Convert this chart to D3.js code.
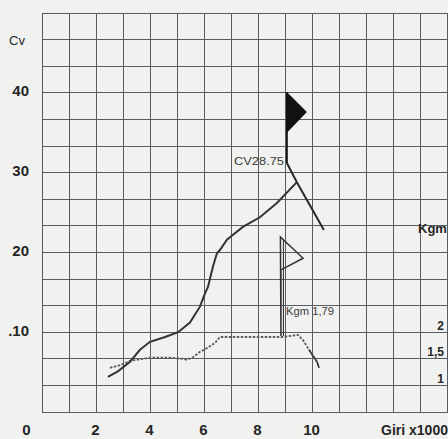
<!DOCTYPE html>
<html>
<head>
<meta charset="utf-8">
<script src="https://cdn.jsdelivr.net/npm/d3@7"></script>
<style>
  html, body { margin: 0; padding: 0; background: #f1f2f0; }
  svg { display: block; font-family: 'Liberation Sans', Arial, sans-serif; }
</style>
</head>
<body>
<svg width="448" height="439"></svg>
<script>
// rpm (x1000) ticks and labels
const rpmTicks = [0, 2, 4, 6, 8, 10];
const cvTicks = [10, 20, 30, 40];
const kgmTicks = [1, 1.5, 2];

// power curve: [rpm x1000, CV]
const cvCurve = [
  [2.44, 4.4], [2.81, 5.1], [3.26, 6.3], [3.63, 7.8], [4.0, 8.8],
  [4.56, 9.4], [5.04, 10.0], [5.48, 11.2], [5.85, 13.2], [6.04, 14.9],
  [6.15, 15.7], [6.33, 18.2], [6.48, 19.9], [6.59, 20.3], [6.85, 21.6],
  [6.96, 21.9], [7.44, 23.2], [8.07, 24.4], [8.70, 26.2], [9.44, 28.8]
];
// falling branch after the peak, starting at the flag pole
const cvFall = [[9.07, 31.2], [9.44, 28.8], [10.44, 22.8]];
const cvFlag = [[9.07, 31.2], [9.07, 40.1], [9.81, 37.6], [9.07, 35.0]];

// torque curve: [rpm x1000, Kgm]
const kgmCurve = [
  [2.52, 1.33], [2.89, 1.38], [3.26, 1.46], [4.0, 1.52], [4.74, 1.52],
  [5.22, 1.50], [5.37, 1.48], [5.59, 1.53], [5.85, 1.63], [6.11, 1.70],
  [6.41, 1.80], [6.59, 1.91], [7.33, 1.91], [8.93, 1.91], [9.48, 1.95],
  [9.67, 1.85], [9.89, 1.67], [10.19, 1.44], [10.26, 1.33]
];
const kgmFlag = [[8.85, 1.93], [8.83, 3.79], [9.67, 3.39], [8.85, 3.17]];

const svg = d3.select('svg');
const gLeft = 42, gRight = 447, gTop = 13, gBottom = 412;

const x = d3.scaleLinear().domain([0, 15]).range([gLeft, gRight]);
const y = d3.scaleLinear().domain([0, 50]).range([gBottom, gTop]);
const yK = d3.scaleLinear().domain([0.5, 8]).range([gBottom, gTop]);

// grid
const grid = svg.append('g')
  .attr('stroke', '#585c64')
  .attr('stroke-width', 1)
  .attr('shape-rendering', 'crispEdges');
grid.selectAll('line.v')
  .data(d3.range(0, 16))
  .enter().append('line')
  .attr('x1', d => x(d)).attr('x2', d => x(d))
  .attr('y1', gTop).attr('y2', gBottom);
grid.selectAll('line.h')
  .data(d3.range(0, 16))
  .enter().append('line')
  .attr('x1', gLeft).attr('x2', 448)
  .attr('y1', d => y(d * 10 / 3)).attr('y2', d => y(d * 10 / 3));

// axes (labels only)
const fmt = d => String(d).replace('.', ',');

const xAxis = svg.append('g')
  .attr('transform', `translate(0,${gBottom})`)
  .call(d3.axisBottom(x).tickValues(rpmTicks).tickSize(0).tickPadding(12));
xAxis.selectAll('text').attr('dx', d => (d === 0 ? -16 : -1));

const yAxis = svg.append('g')
  .attr('transform', `translate(${gLeft},0)`)
  .call(d3.axisLeft(y).tickValues(cvTicks).tickSize(0).tickPadding(13));
yAxis.selectAll('text').attr('dy', '0.2em')
  .text(d => (d === 10 ? '.10' : d));

const kAxis = svg.append('g')
  .attr('transform', 'translate(444,0)')
  .call(d3.axisLeft(yK).tickValues(kgmTicks).tickSize(0).tickPadding(0).tickFormat(fmt));
kAxis.selectAll('text').attr('dy', '-0.25em').attr('text-anchor', 'end');

svg.selectAll('.domain').remove();
svg.selectAll('.tick text')
  .attr('fill', '#262626')
  .style('font-family', "'Liberation Sans', Arial, sans-serif")
  .style('font-weight', 'bold')
  .style('font-size', '15px');
kAxis.selectAll('text').style('font-size', '12px');

const line = d3.line().x(d => x(d[0])).y(d => y(d[1]));
const lineK = d3.line().x(d => x(d[0])).y(d => yK(d[1]));

// torque (dotted)
svg.append('path')
  .attr('d', lineK(kgmCurve))
  .attr('fill', 'none')
  .attr('stroke', '#5a5a5a')
  .attr('stroke-width', 1.8)
  .attr('stroke-dasharray', '2.5,1.5');
svg.append('path')
  .attr('d', lineK(kgmCurve.filter(d => d[0] >= 9.89)))
  .attr('fill', 'none')
  .attr('stroke', '#3c3c3c')
  .attr('stroke-width', 1.6);

// torque flag (outline)
svg.append('path')
  .attr('d', lineK(kgmFlag) + 'Z')
  .attr('fill', 'none')
  .attr('stroke', '#333')
  .attr('stroke-width', 1.5);
svg.append('line')
  .attr('x1', x(8.85) + 2.5).attr('x2', x(8.85) + 2.5)
  .attr('y1', yK(3.75)).attr('y2', yK(1.93))
  .attr('stroke', '#3a3a3a').attr('stroke-width', 1.1);

// power (solid)
svg.append('path')
  .attr('d', line(cvCurve))
  .attr('fill', 'none')
  .attr('stroke', '#333')
  .attr('stroke-width', 2);
svg.append('path')
  .attr('d', line(cvFall))
  .attr('fill', 'none')
  .attr('stroke', '#2a2a2a')
  .attr('stroke-width', 2);

// power flag (filled)
svg.append('path')
  .attr('d', line(cvFlag.slice(1)) + 'Z')
  .attr('fill', '#111');
svg.append('path')
  .attr('d', line(cvFlag.slice(0, 2)))
  .attr('stroke', '#111')
  .attr('stroke-width', 1.8);

// labels
const label = (tx, ty, s, size, weight, extra) => {
  const t = svg.append('text')
    .attr('x', tx).attr('y', ty)
    .attr('fill', '#262626')
    .style('font-size', size + 'px')
    .style('font-weight', weight)
    .text(s);
  if (extra) extra(t);
  return t;
};
label(9, 45, 'Cv', 13, 'normal');
label(418, 233, 'Kgm', 13, 'bold');
label(381, 435, 'Giri x1000', 14, 'bold', t => t.attr('textLength', 67));
label(234, 165, 'CV28.75', 11, 'normal', t => t
  .attr('textLength', 50).attr('lengthAdjust', 'spacingAndGlyphs').attr('fill', '#3a3a3a'));
label(286, 315, 'Kgm 1,79', 10.5, 'normal', t => t
  .attr('textLength', 48).attr('lengthAdjust', 'spacingAndGlyphs').attr('fill', '#3a3a3a'));
</script>
</body>
</html>
